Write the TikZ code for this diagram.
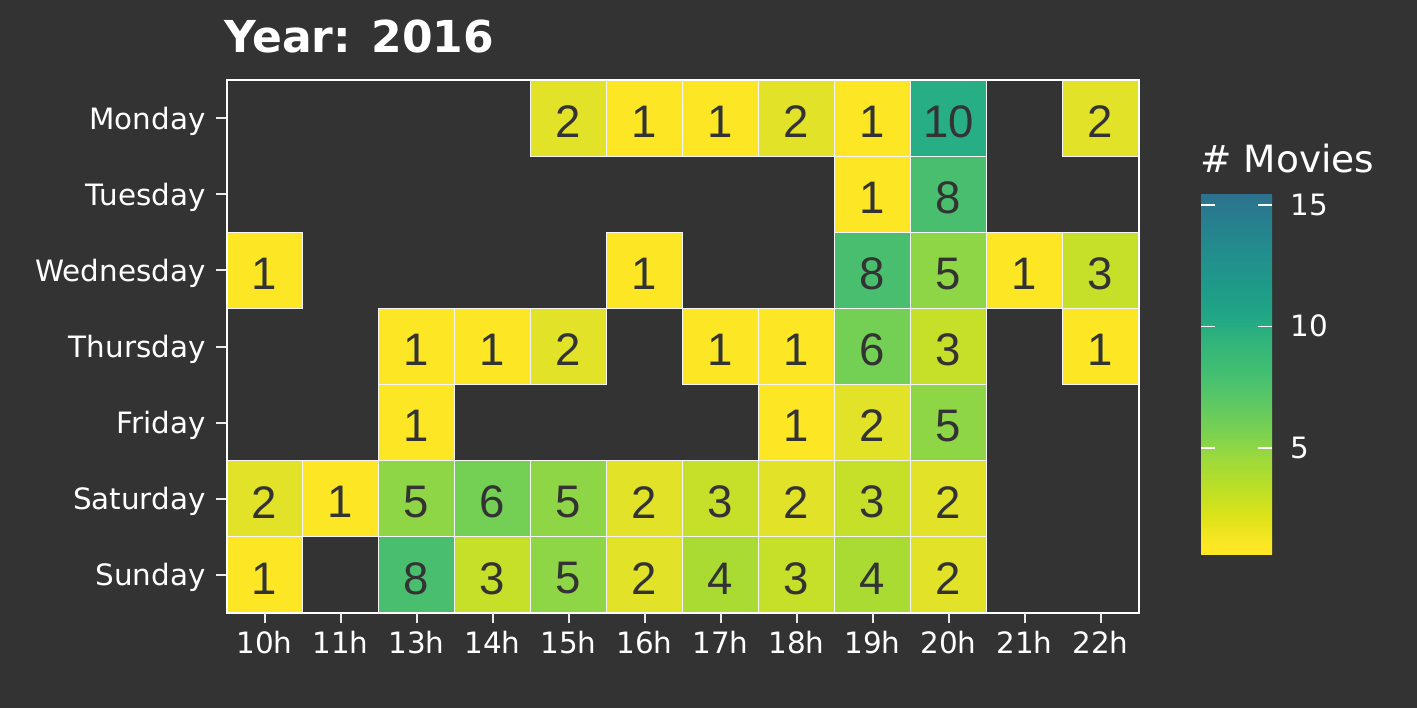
\documentclass[tikz,border=0pt]{standalone}
\usepackage{fontspec}
\setmainfont{DejaVu Sans}
\newfontfamily\numfont{Liberation Sans}
\definecolor{bg}{HTML}{333333}
\definecolor{ink}{HTML}{333333}
\definecolor{tickc}{HTML}{EBEBEB}
\definecolor{val1}{HTML}{FDE725}
\definecolor{val2}{HTML}{E2E228}
\definecolor{val3}{HTML}{C6E02A}
\definecolor{val4}{HTML}{A9DB33}
\definecolor{val5}{HTML}{8FD647}
\definecolor{val6}{HTML}{73D055}
\definecolor{val8}{HTML}{49BE6E}
\definecolor{val10}{HTML}{28AE84}
\definecolor{vb38}{HTML}{2D718E}
\definecolor{vb40}{HTML}{2A788E}
\definecolor{vb45}{HTML}{25858E}
\definecolor{vb50}{HTML}{21918C}
\definecolor{vb55}{HTML}{1E9C89}
\definecolor{vb60}{HTML}{22A884}
\definecolor{vb65}{HTML}{35B779}
\definecolor{vb70}{HTML}{44BF70}
\definecolor{vb75}{HTML}{5EC962}
\definecolor{vb80}{HTML}{7AD151}
\definecolor{vb85}{HTML}{9FDA3A}
\definecolor{vb90}{HTML}{BDDF26}
\definecolor{vb95}{HTML}{DDE318}
\definecolor{vb100}{HTML}{FDE725}
\pgfdeclareverticalshading{viridisbar}{100bp}{color(0bp)=(vb100); color(26.22bp)=(vb100); color(30.19bp)=(vb95); color(34.10bp)=(vb90); color(38.03bp)=(vb85); color(41.97bp)=(vb80); color(45.91bp)=(vb75); color(49.85bp)=(vb70); color(53.78bp)=(vb65); color(57.72bp)=(vb60); color(61.66bp)=(vb55); color(65.60bp)=(vb50); color(69.53bp)=(vb45); color(73.47bp)=(vb40); color(75bp)=(vb38); color(100bp)=(vb38)}
\tikzset{
  tile/.style={rectangle, inner sep=0pt, minimum width=38pt, minimum height=38.07pt, draw=white!92!gray, line width=0.5pt},
  num/.style={inner sep=0pt, text=ink, font=\numfont\fontsize{22.8pt}{24pt}\selectfont},
  axlab/.style={inner sep=0pt, text=white, font=\fontsize{14.7pt}{16pt}\selectfont},
  ttl/.style={inner sep=0pt, text=white, font=\bfseries\fontsize{22pt}{24pt}\selectfont},
  legttl/.style={inner sep=0pt, text=white, font=\fontsize{18.75pt}{20pt}\selectfont},
  tk/.style={draw=tickc, line width=1pt},
  legtk/.style={draw=white, line width=0.7pt}
}
\begin{document}
\begin{tikzpicture}[x=0.5pt,y=-0.5pt]
\fill[bg] (0,0) rectangle (1417,708);
\useasboundingbox (0,0) rectangle (1417,708);
% title
\node[ttl, anchor=base west] (title) at (224,52) {Year: 2016};
% tiles
\foreach \r/\c/\v in {0/4/2, 0/5/1, 0/6/1, 0/7/2, 0/8/1, 0/9/10, 0/11/2,
  1/8/1, 1/9/8,
  2/0/1, 2/5/1, 2/8/8, 2/9/5, 2/10/1, 2/11/3,
  3/2/1, 3/3/1, 3/4/2, 3/6/1, 3/7/1, 3/8/6, 3/9/3, 3/11/1,
  4/2/1, 4/7/1, 4/8/2, 4/9/5,
  5/0/2, 5/1/1, 5/2/5, 5/3/6, 5/4/5, 5/5/2, 5/6/3, 5/7/2, 5/8/3, 5/9/2,
  6/0/1, 6/2/8, 6/3/3, 6/4/5, 6/5/2, 6/6/4, 6/7/3, 6/8/4, 6/9/2} {
  \node[tile, fill=val\v] (tile-\r-\c) at ({264.5+76*\c},{118.07+76.14*\r}) {};
  \node[num] (num-\r-\c) at ({264.5+76*\c},{121.5+76.14*\r}) {\v};
}
% panel border
\draw[white, line width=1pt] (226.5,80) rectangle (1138.5,613);
% y axis
\foreach \d [count=\i from 0] in {Monday,Tuesday,Wednesday,Thursday,Friday,Saturday,Sunday} {
  \draw[tk] (216,{118.07+76.14*\i}) -- (226,{118.07+76.14*\i});
  \node[axlab, anchor=base east] (ylab-\i) at (206,{129+76.14*\i}) {\d};
}
% x axis
\foreach \h [count=\i from 0] in {10h,11h,13h,14h,15h,16h,17h,18h,19h,20h,21h,22h} {
  \draw[tk] ({264.5+76*\i},613) -- ({264.5+76*\i},623);
  \node[axlab, anchor=base] (xlab-\i) at ({264.5+76*\i},653) {\h};
}
% legend
\node[legttl, anchor=base west] (legtitle) at (1200,172) {\# Movies};
\shade[shading=viridisbar] (1201,194) rectangle (1272,554);
\foreach \v/\y in {15/205,10/326.5,5/448} {
  \draw[legtk] (1201,\y) -- (1215,\y);
  \draw[legtk] (1258,\y) -- (1272,\y);
  \node[axlab, anchor=base west] (leg-\v) at (1290,{\y+10}) {\v};
}
\end{tikzpicture}
\end{document}
